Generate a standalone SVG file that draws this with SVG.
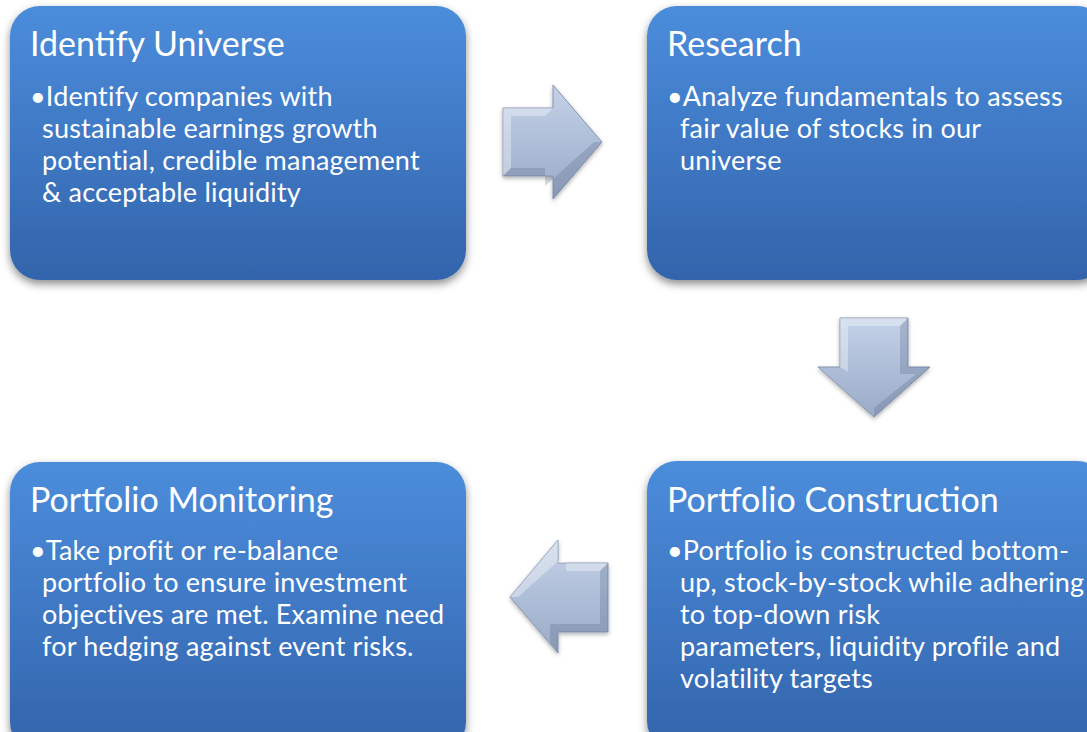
<svg xmlns="http://www.w3.org/2000/svg" width="1087" height="732" viewBox="0 0 1087 732">
<style>
.box{fill:url(#boxg);filter:url(#sh);}
.t{font-family:Lato,"Open Sans",sans-serif;fill:#fff;font-size:34px;}
.b{font-family:Lato,"Open Sans",sans-serif;fill:#fff;font-size:27px;letter-spacing:0.2px;}
.arr{fill:url(#arg);stroke:#8595b0;stroke-width:1;filter:url(#sh2);}
.hl{fill:#fff;opacity:0.35;}
.dk{fill:#506080;opacity:0.25;}
</style>
<defs>
<linearGradient id="boxg" x1="0" y1="0" x2="0" y2="1">
<stop offset="0" stop-color="#4b8ddb"/>
<stop offset="0.5" stop-color="#3f78c4"/>
<stop offset="1" stop-color="#3264ab"/>
</linearGradient>
<linearGradient id="arg" x1="0" y1="0" x2="0" y2="1">
<stop offset="0" stop-color="#c4d2e8"/>
<stop offset="1" stop-color="#9aabc8"/>
</linearGradient>
<filter id="sh" x="-10%" y="-10%" width="120%" height="130%">
<feDropShadow dx="0" dy="4" stdDeviation="4" flood-color="#000" flood-opacity="0.45"/>
</filter>
<filter id="sh2" x="-20%" y="-20%" width="140%" height="140%">
<feDropShadow dx="0" dy="2" stdDeviation="2" flood-color="#000" flood-opacity="0.3"/>
</filter>
</defs>
<rect width="1087" height="732" fill="#fff"/>

<g id="node-identify-universe">
<rect class="box" x="10" y="6" width="456" height="274" rx="30"/>
<text class="t" x="30" y="56">Identify Universe</text>
<text class="b" x="30" y="106">•Identify companies with</text>
<text class="b" x="42" y="138">sustainable earnings growth</text>
<text class="b" x="42" y="170">potential, credible management</text>
<text class="b" x="42" y="202">&amp; acceptable liquidity</text>
</g>

<g id="node-research">
<rect class="box" x="647" y="6" width="460" height="274" rx="30"/>
<text class="t" x="667" y="56">Research</text>
<text class="b" x="667" y="106">•Analyze fundamentals to assess</text>
<text class="b" x="680" y="138">fair value of stocks in our</text>
<text class="b" x="680" y="170">universe</text>
</g>

<g id="node-portfolio-monitoring">
<rect class="box" x="10" y="462" width="456" height="290" rx="30"/>
<text class="t" x="30" y="512">Portfolio Monitoring</text>
<text class="b" x="30" y="560">•Take profit or re-balance</text>
<text class="b" x="42" y="592">portfolio to ensure investment</text>
<text class="b" x="42" y="624">objectives are met. Examine need</text>
<text class="b" x="42" y="656">for hedging against event risks.</text>
</g>

<g id="node-portfolio-construction">
<rect class="box" x="647" y="461" width="460" height="290" rx="30"/>
<text class="t" x="667" y="512">Portfolio Construction</text>
<text class="b" x="667" y="560">•Portfolio is constructed bottom-</text>
<text class="b" x="680" y="592">up, stock-by-stock while adhering</text>
<text class="b" x="680" y="624">to top-down risk</text>
<text class="b" x="680" y="656">parameters, liquidity profile and</text>
<text class="b" x="680" y="688">volatility targets</text>
</g>

<g id="connectors">
<g id="arrow-right">
<path class="arr" d="M503,108 L553,108 L553,85 L602,142 L553,199 L553,176 L503,176 Z"/>
<path class="hl" d="M503,108 L553,108 L545,116 L511,116 L511,168 L503,176 Z"/>
<path class="dk" d="M503,176 L553,176 L553,199 L602,142 L594,142 L545,186 L545,168 L511,168 Z"/>
</g>
<g id="arrow-down">
<path class="arr" d="M840,318 L908,318 L908,367 L930,367 L874,417 L818,367 L840,367 Z"/>
<path class="hl" d="M840,318 L908,318 L900,326 L848,326 L848,372 L840,367 Z"/>
<path class="dk" d="M908,318 L908,367 L930,367 L874,417 L874,408 L916,374 L900,374 L900,326 Z"/>
</g>
<g id="arrow-left">
<path class="arr" d="M608,563 L558,563 L558,540 L510,597 L558,653 L558,632 L608,632 Z"/>
<path class="hl" d="M558,540 L510,597 L518,597 L566,554 L566,571 L600,571 L608,563 L558,563 Z"/>
<path class="dk" d="M608,563 L608,632 L558,632 L558,653 L550,642 L550,624 L600,624 L600,571 Z"/>
</g>
</g>
</svg>
